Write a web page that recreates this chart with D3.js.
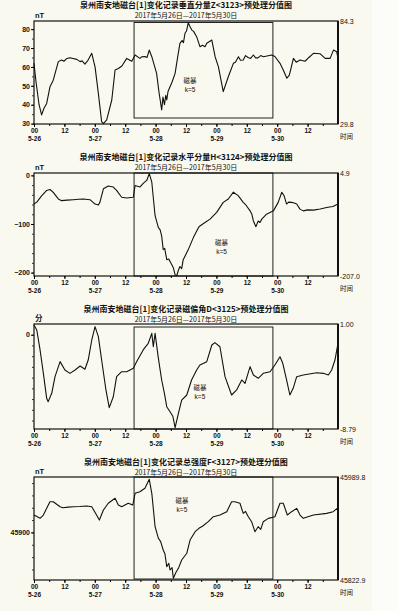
<!DOCTYPE html>
<html>
<head>
<meta charset="utf-8">
<script src="https://cdn.jsdelivr.net/npm/d3@7"></script>
<style>
  html, body { margin: 0; padding: 0; background: #f9f9ef; }
  svg { display: block; }
  text { font-family: "Noto Sans CJK SC", "Noto Sans", sans-serif; fill: #111; }
  .num { font-family: "Liberation Sans", Arial, sans-serif; }
</style>
</head>
<body>
<svg id="chart" width="398" height="611"></svg>
<script>
// ---- data (hour since 5-26 00:00, value) ----
const dateLabels = ['5-26', '5-27', '5-28', '5-29', '5-30'];
const hourLabels = ['00', '12'];
const subtitle = '2017年5月26日—2017年5月30日';
const stormWindow = [39.5, 94.3];
const stormText = ['磁暴', 'k=5'];

const titles = [
  '泉州南安地磁台[1]变化记录垂直分量Z<3123>预处理分值图',
  '泉州南安地磁台[1]变化记录水平分量H<3124>预处理分值图',
  '泉州南安地磁台[1]变化记录磁偏角D<3125>预处理分值图',
  '泉州南安地磁台[1]变化记录总强度F<3127>预处理分值图'
];
const units = ['nT', 'nT', '分', 'nT'];
const domains = [[29.8, 84.3], [-207.0, 4.9], [-8.79, 1.00], [45822.9, 45989.8]];
const rangeLabels = [['84.3', '29.8'], ['4.9', '-207.0'], ['1.00', '-8.79'], ['45989.8', '45822.9']];
const majorTicks = [[30, 40, 50, 60, 70, 80], [0, -100, -200], [0], [45900]];
const minorStep = [5, 20, 1, 20];

const seriesZ = [[0,62],[0.8,52],[2,40],[3,34.6],[3.9,38],[5,40.7],[6.3,49.5],[7.6,53],[9.6,62.8],[10.9,63.7],[11.8,63],[13,64.5],[14.2,64.9],[15.4,64.5],[16.9,64],[18.2,62.8],[19,63.2],[20.1,61.5],[21.3,63.5],[22.8,67.2],[24.1,60],[25.4,46],[26.7,31],[27.4,30],[28.7,32],[30.7,42.5],[32,58.4],[33.3,59.2],[34.7,60.5],[36.6,64.5],[38.6,63],[39.9,66.3],[41.8,64.5],[42.5,65.3],[43.8,65.5],[44.6,65],[45.5,68.9],[46.5,65.4],[48.4,56.6],[49.3,47],[50.4,37.2],[50.9,44],[51.5,40],[52,45],[52.4,42.5],[52.9,47],[53.7,49.5],[54.5,52],[55.7,56.6],[56.8,66],[57.6,72.5],[58.5,74],[59,72.8],[59.6,77.8],[60.2,79],[60.9,83.4],[61.5,81.5],[62.3,79.5],[63,78.8],[64.2,76],[65.5,70.7],[66.5,71.5],[67.5,70.7],[68.2,72.5],[70.2,74.2],[71.5,65.4],[72.8,60],[74.7,46.9],[76.7,54.8],[78.7,61.9],[79.5,62.5],[80.7,65.4],[81.5,63.5],[82.6,63.7],[83.5,66],[84.5,65],[85.5,64.5],[86.6,66.3],[87.5,64.8],[88.4,64.8],[89.5,66],[90.5,65.4],[92,65.8],[93.8,66.3],[95.1,65.5],[97.1,61.9],[98.4,58.4],[99.8,54],[100.8,55.7],[102.4,64.5],[103.5,62.5],[105,63.7],[107,63],[108.5,65],[110.3,67.2],[112.9,67],[114.9,64.5],[116.9,64.5],[118.2,68.9],[119.5,68],[120,64.5]];

const seriesH = [[0,-59],[1.1,-55],[3,-42],[5,-31],[6.3,-29],[7.6,-35],[9.6,-48.5],[10.9,-52],[13,-51],[15.5,-50],[17.5,-49],[19.5,-48.5],[22.1,-50],[24.1,-59],[25.4,-61],[26,-55.5],[27.4,-27.7],[29.3,-22],[31.3,-24],[32.6,-31],[34.6,-45],[36.6,-46.5],[39.2,-45],[39.9,-21],[41.8,-24],[43.2,-16],[44.5,-10.4],[45.5,3.5],[46.5,-14],[47.8,-83],[49.1,-107.5],[49.8,-112],[50.4,-125],[51,-152.7],[51.6,-150],[52.4,-173.5],[53.2,-172],[54.4,-184],[55,-190],[55.7,-204.8],[56.4,-206],[57,-195],[57.6,-187.5],[58.3,-192],[58.9,-173.5],[60.9,-152.7],[62.9,-128],[64.9,-107.5],[65.5,-104],[67.5,-97],[69.5,-90],[72.1,-76],[74.7,-55.5],[76.7,-48.5],[78.7,-34.6],[80.6,-41.7],[82.6,-55.5],[83.5,-60],[85.3,-73],[86,-80],[86.6,-93.8],[87.6,-105.5],[88.5,-93.8],[89.2,-97],[89.9,-90],[91.8,-79.8],[94.5,-73],[96.4,-55.5],[97.8,-34.6],[98.7,-41.7],[99.7,-59],[100.5,-55],[101.7,-55.5],[102.7,-57],[103.7,-59],[105,-69.4],[106.3,-73],[108,-71],[110.3,-71.5],[113,-69],[115.5,-66],[118,-64],[120,-59]];

const seriesD = [[0,0.9],[1.1,0.44],[2.4,-1.42],[3.7,-3.6],[5,-5.93],[5.6,-6.24],[7,-5.46],[8.3,-3.91],[10.3,-2.51],[12.2,-3.29],[14.2,-3.6],[16.2,-3.29],[18.2,-2.92],[20.1,-3.22],[21.4,-2.36],[22.8,-0.49],[24.1,0.75],[25.4,-0.18],[26.7,-2.36],[28.4,-5.15],[29.7,-6.8],[31.3,-5.78],[32.6,-3.91],[34.6,-3.45],[36.6,-3.45],[39.2,-3.13],[40.5,-2.51],[43.1,-1.42],[45.1,-0.8],[46.5,0.13],[47.1,-1.12],[47.8,0.13],[49.1,-2.2],[50.4,-4.22],[51.5,-5.5],[52.4,-6.71],[53.7,-7.18],[54.8,-7.6],[55.7,-8.67],[57,-7.33],[58.3,-6.09],[60.3,-5.62],[62.2,-4.22],[64.2,-3.29],[65.5,-2.82],[68.2,-2.51],[70.2,-0.96],[71.4,-0.74],[73.4,-1.12],[75.4,-3.91],[78,-5.62],[80,-5.15],[82,-4.22],[83.3,-4.53],[85.3,-2.98],[86.6,-3.76],[88.5,-4.06],[90.5,-3.6],[93.2,-3.45],[95.1,-2.82],[97.1,-2.05],[98.2,-2.66],[99.7,-4.22],[101,-5.62],[102.3,-5],[103.7,-3.91],[106.3,-3.76],[111.6,-3.54],[114.2,-3.6],[116.2,-3.76],[117.5,-3.29],[118.8,-2.36],[120,-0.8]];

const seriesF = [[0,45928.2],[2.4,45922.9],[3.7,45928.2],[5,45939],[6.3,45949.8],[7.6,45949.8],[10.3,45941.7],[11.4,45940],[13.5,45941],[15.5,45941.7],[18,45942],[20.8,45942.8],[22.8,45941.7],[24.7,45928.2],[25.8,45920],[27.4,45936.3],[29.3,45947.2],[32,45955.3],[33.3,45944.4],[34.6,45941.7],[37.2,45947.2],[39,45944.4],[39.9,45963.4],[41.8,45966],[43.8,45971.5],[45.5,45986],[46.5,45963.4],[47.8,45909.3],[49.1,45890.5],[50,45885],[51,45871.5],[51.7,45865],[52.4,45844.5],[53.2,45850],[53.7,45839.1],[54.5,45843],[55,45825.7],[56,45835],[57,45841.8],[58.3,45855.3],[60.3,45866.2],[61.6,45887.7],[63.6,45901.2],[65.1,45906.6],[66.5,45910],[68.8,45917.4],[70.8,45925.5],[73.4,45928.2],[76.1,45933.6],[78,45949.8],[79.3,45949.8],[81.3,45947.2],[82.6,45930.9],[83.5,45934],[84.6,45925.5],[85.9,45917.4],[87.2,45901.2],[88.5,45909.3],[89.5,45905],[90.5,45917.4],[92.5,45922.8],[95.1,45925.5],[97.1,45947.2],[98.4,45947.2],[100,45928.2],[101.7,45933.6],[103.7,45939],[105,45928.2],[106.3,45922.8],[110.3,45928.2],[115.5,45930.9],[118.1,45933.6],[119.7,45939],[120,45933.6]];

const allSeries = [seriesZ, seriesH, seriesD, seriesF];

// ---- layout ----
const left = 34, right = 338;
const panels = [
  { top: 21,  bottom: 124, titleY: 8,   boxTop: 1.5, boxBot: 6, label: [61.6, 0.60] },
  { top: 173, bottom: 276, titleY: 160, boxTop: 0,   boxBot: 0, label: [74,   0.70] },
  { top: 324, bottom: 429, titleY: 312, boxTop: 3,   boxBot: 0, label: [65.5, 0.63] },
  { top: 477, bottom: 580, titleY: 465, boxTop: 0,   boxBot: 1, label: [58.4, 0.25] }
];

const svg = d3.select('#chart');
svg.append('rect').attr('width', 398).attr('height', 611).attr('fill', '#f9f9ef');
svg.append('rect').attr('x', 372).attr('width', 26).attr('height', 611).attr('fill', '#fcfcf8');

const x = d3.scaleLinear().domain([0, 120]).range([left, right]);

panels.forEach((p, i) => {
  const g = svg.append('g');
  const y = d3.scaleLinear().domain(domains[i]).range([p.bottom, p.top]);
  const cx = (left + right) / 2;

  // titles
  g.append('text').attr('x', cx).attr('y', p.titleY)
    .attr('text-anchor', 'middle').attr('font-size', 8).attr('font-weight', 'bold')
    .text(titles[i]);
  g.append('text').attr('x', cx).attr('y', p.titleY + 10)
    .attr('text-anchor', 'middle').attr('font-size', 7)
    .text(subtitle);
  g.append('text').attr('x', 35).attr('y', p.top - 3)
    .attr('class', i === 2 ? null : 'num')
    .attr('font-size', 7.5).attr('font-weight', 'bold')
    .text(units[i]);

  // storm window box
  g.append('rect')
    .attr('x', x(stormWindow[0])).attr('y', p.top + p.boxTop)
    .attr('width', x(stormWindow[1]) - x(stormWindow[0]))
    .attr('height', p.bottom - p.top - p.boxTop - p.boxBot)
    .attr('fill', 'none').attr('stroke', '#222').attr('stroke-width', 1);

  const ly = p.top + (p.bottom - p.top) * p.label[1];
  g.append('text').attr('x', x(p.label[0])).attr('y', ly)
    .attr('text-anchor', 'middle').attr('font-size', 6.5).text(stormText[0]);
  g.append('text').attr('x', x(p.label[0])).attr('y', ly + 9)
    .attr('class', 'num')
    .attr('text-anchor', 'middle').attr('font-size', 6.5).text(stormText[1]);

  // series line
  const line = d3.line().x(d => x(d[0])).y(d => y(d[1]));
  g.append('path').datum(allSeries[i])
    .attr('d', line).attr('fill', 'none')
    .attr('stroke', '#111').attr('stroke-width', 1.1).attr('stroke-linejoin', 'round');

  // frame
  g.append('rect').attr('x', left).attr('y', p.top)
    .attr('width', right - left).attr('height', p.bottom - p.top)
    .attr('fill', 'none').attr('stroke', '#111').attr('stroke-width', 1.2);
  g.append('line').attr('x1', right).attr('x2', right).attr('y1', p.top).attr('y2', p.bottom)
    .attr('stroke', '#111').attr('stroke-width', 2);

  // left axis
  const [d0, d1] = domains[i];
  const minors = d3.range(Math.ceil(d0 / minorStep[i]) * minorStep[i], d1, minorStep[i]);
  g.append('g').attr('transform', `translate(${left},0)`)
    .call(d3.axisLeft(y).tickValues(minors).tickSize(2).tickFormat(''))
    .call(a => a.select('.domain').remove())
    .call(a => a.selectAll('line').attr('stroke', '#333'));
  g.append('g').attr('transform', `translate(${left},0)`)
    .call(d3.axisLeft(y).tickValues(majorTicks[i]).tickSize(3).tickPadding(1).tickFormat(d3.format('d')))
    .call(a => a.select('.domain').remove())
    .call(a => a.selectAll('text').attr('class', 'num').attr('font-size', 7).attr('font-weight', 'bold'));

  // right range labels
  g.append('text').attr('class', 'num').attr('x', right + 2).attr('y', p.top + 2.5)
    .attr('font-size', 7).text(rangeLabels[i][0]);
  g.append('text').attr('class', 'num').attr('x', right + 2).attr('y', p.bottom + 2.5)
    .attr('font-size', 7).text(rangeLabels[i][1]);

  // bottom axis
  g.append('g').attr('transform', `translate(0,${p.bottom})`)
    .call(d3.axisBottom(x).tickValues(d3.range(0, 120, 6)).tickSize(2).tickFormat(''))
    .call(a => a.select('.domain').remove());
  const xa = g.append('g').attr('transform', `translate(0,${p.bottom})`)
    .call(d3.axisBottom(x).tickValues(d3.range(0, 120, 12)).tickSize(3)
      .tickFormat(h => hourLabels[(h / 12) % 2]))
    .call(a => a.select('.domain').remove());
  xa.selectAll('text').attr('class', 'num').attr('y', 9.3).attr('dy', 0)
    .attr('font-size', 6.5).attr('font-weight', 'bold');
  xa.selectAll('.tick').filter(h => h % 24 === 0).append('text')
    .attr('class', 'num').attr('y', 17).attr('text-anchor', 'middle')
    .attr('font-size', 6.5).attr('font-weight', 'bold').attr('fill', '#111')
    .text(h => dateLabels[h / 24]);

  g.append('text').attr('x', 340).attr('y', p.bottom + 15)
    .attr('font-size', 6.5).text('时间');
});
</script>
</body>
</html>
